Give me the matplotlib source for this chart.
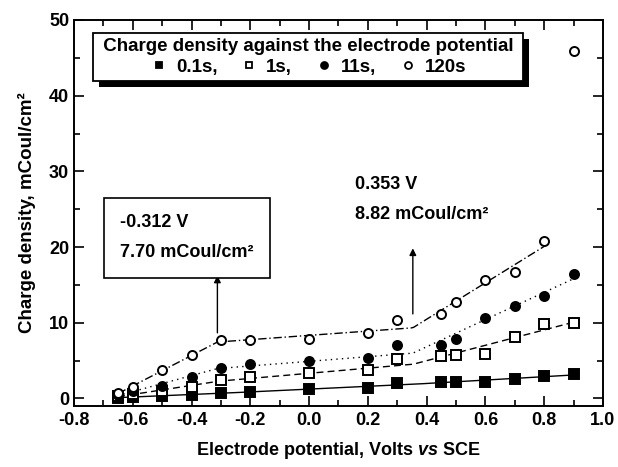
import numpy as np
import matplotlib
matplotlib.use('Agg')
import matplotlib.pyplot as plt
from matplotlib.lines import Line2D
from matplotlib.patches import Rectangle
from matplotlib.transforms import IdentityTransform

plt.rcParams['font.family'] = ['Liberation Sans', 'DejaVu Sans']
plt.rcParams['font.weight'] = 'bold'
plt.rcParams['mathtext.fontset'] = 'custom'
plt.rcParams['mathtext.rm'] = 'Liberation Sans:bold'
plt.rcParams['mathtext.it'] = 'Liberation Sans:italic:bold'

# electrode potential (V vs SCE)
potential = [-0.65, -0.6, -0.5, -0.4, -0.3, -0.2, 0.0, 0.2, 0.3, 0.45, 0.5, 0.6, 0.7, 0.8, 0.9]

# charge density (mCoul/cm2) for each charging time
q_01s = [0.1, 0.2, 0.35, 0.5, 0.7, 0.9, 1.2, 1.4, 2.0, 2.2, 2.2, 2.2, 2.6, 2.9, 3.2]
q_1s = [0.3, 0.6, 1.0, 1.5, 2.4, 2.8, 3.3, 3.7, 5.2, 5.6, 5.7, 5.9, 8.1, 9.8, 10.0]
q_11s = [0.5, 1.0, 1.7, 2.8, 4.0, 4.5, 4.9, 5.4, 7.1, 7.1, 7.8, 10.6, 12.2, 13.5, 16.5]
q_120s = [0.7, 1.5, 3.8, 5.7, 7.7, 7.7, 7.9, 8.6, 10.3, 11.1, 12.7, 15.7, 16.7, 20.8, 45.9]

labels = ['0.1s,', '1s,', '11s,', '120s']
markers = ['s', 's', 'o', 'o']
fills = ['k', 'white', 'k', 'white']
styles = ['-', (0, (5, 3)), (0, (1, 3)), (0, (6, 2, 1, 2))]

# break points of the piecewise fits
breaks = [-0.312, 0.353]
break_q = [7.70, 8.82]


def hinge_fit(x, y, xs):
    x = np.asarray(x)
    def basis(v):
        return np.column_stack([np.ones_like(v), v] + [np.maximum(0, v - b) for b in breaks])
    coef, *_ = np.linalg.lstsq(basis(x), np.asarray(y), rcond=None)
    return basis(xs) @ coef


fig = plt.figure(figsize=(6.18, 4.67), dpi=100)
ax = fig.add_axes([0.1197, 0.1306, 0.856, 0.8266])

x = np.array(potential)
series = [q_01s, q_1s, q_11s, q_120s]
handles = []
for q, lab, m, fc, ls in zip(series, labels, markers, fills, styles):
    q = np.array(q)
    keep = q < 30 if lab == '120s' else np.ones_like(q, bool)
    xs = np.linspace(x[keep].min(), x[keep].max(), 200)
    ax.plot(xs, hinge_fit(x[keep], q[keep], xs), color='k', lw=1.0, linestyle=ls)
    ax.plot(x, q, linestyle='none', marker=m, markersize=6.5, markerfacecolor=fc,
            markeredgecolor='k', markeredgewidth=1.4)
    handles.append(Line2D([], [], linestyle='none', marker=m, markersize=5,
                          markerfacecolor=fc, markeredgecolor='k', markeredgewidth=1.3,
                          label=lab))

# arrows marking the break points
ax.annotate('', xy=(breaks[0], 16.6), xytext=(breaks[0], 8.3),
            arrowprops=dict(arrowstyle='-|>', color='k', lw=1.0, mutation_scale=10))
ax.annotate('', xy=(breaks[1], 20.2), xytext=(breaks[1], 10.8),
            arrowprops=dict(arrowstyle='-|>', color='k', lw=1.0, mutation_scale=10))

ax.text(-0.415, 21.2, f'{breaks[0]:.3f} V\n{break_q[0]:.2f} mCoul/cm\u00b2', fontsize=13,
        fontweight='bold', linespacing=2.0, va='center', ha='center', multialignment='left',
        bbox=dict(boxstyle='square,pad=0.9', fc='white', ec='k', lw=1.2))
ax.text(0.156, 26.3, f'{breaks[1]:.3f} V\n{break_q[1]:.2f} mCoul/cm\u00b2', fontsize=13,
        fontweight='bold', linespacing=1.95, va='center', ha='left')

leg = ax.legend(handles=handles, ncol=4, loc='upper left',
                bbox_to_anchor=(0.036, 0.965),
                title=' Charge density against the electrode potential ',
                title_fontproperties={'weight': 'bold', 'size': 13.5},
                prop={'weight': 'bold', 'size': 13.5}, fancybox=False, framealpha=1,
                edgecolor='k', borderpad=0.25, borderaxespad=0,
                handlelength=1.0, handletextpad=0.4, columnspacing=1.2, labelspacing=0.2)
leg.get_frame().set_linewidth(1.3)
leg.set_zorder(6)

ax.set_xlim(-0.8, 1.0)
ax.set_ylim(-1, 50)
xt = np.round(np.arange(-0.8, 1.01, 0.2), 1)
ax.set_xticks(xt)
ax.set_xticks(np.round(np.arange(-0.7, 1.0, 0.2), 1), minor=True)
ax.set_yticks(np.arange(0, 51, 10))
ax.set_yticks(np.arange(5, 50, 10), minor=True)
ax.set_xticklabels([f'{v + 0.0:.1f}' for v in xt])
ax.tick_params(which='both', direction='in', top=True, right=True, labelsize=13, width=1.2)
ax.tick_params(which='major', length=7)
ax.tick_params(which='minor', length=4)
ax.tick_params(axis='x', pad=4)
for s in ax.spines.values():
    s.set_linewidth(1.4)

ax.set_xlabel('Electrode potential, Volts $\\mathit{vs}$ SCE', fontsize=13,
              fontweight='bold', labelpad=8)
ax.set_ylabel('Charge density, mCoul/cm\u00b2', fontsize=13.5, fontweight='bold', labelpad=9)

# solid drop shadow behind the legend frame
fig.canvas.draw()
bb = leg.get_frame().get_window_extent()
ax.add_patch(Rectangle((bb.x0 + 6, bb.y0 - 6), bb.width, bb.height, transform=IdentityTransform(),
                       fc='k', ec='none', zorder=5.5, clip_on=False))

fig.savefig('out.png', dpi=100)
